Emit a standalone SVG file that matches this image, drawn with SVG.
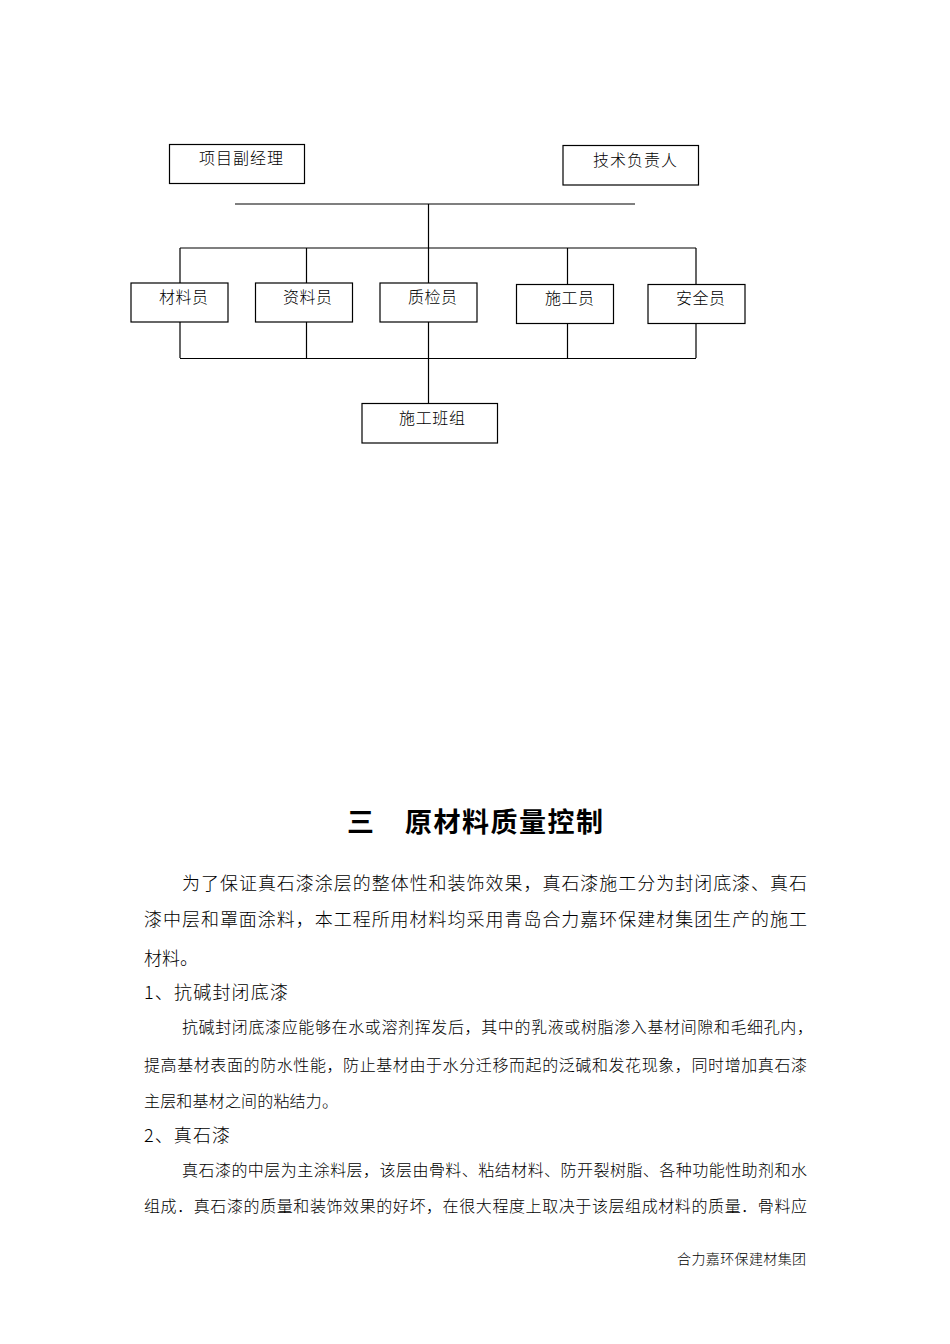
<svg xmlns="http://www.w3.org/2000/svg" width="950" height="1344" viewBox="0 0 950 1344">
<style>
text{font-family:"Noto Sans CJK SC","Noto Sans CJK JP",sans-serif;fill:#000;font-weight:300}
.b{fill:#fff;stroke:#000;stroke-width:1.2}
.c{stroke:#000;stroke-width:1.2;fill:none}
.n{font-size:16px}
.l{font-size:18px}
.s{font-size:16px}
.h{font-size:27px;font-weight:700}
.f{font-size:14px}
</style>
<rect width="950" height="1344" fill="#fff"/>
<g id="connectors">
<path class="c" d="M235 204H635M428.500 204V248M180 248H696M180 248V283M306.500 248V283M428.500 248V283M567.500 248V284M696 248V284M180 322V358M306.500 322V358M428.500 322V358M567.500 324V358M696 323V358M180 358.500H696M428.500 358V403"/>
</g>
<g id="n1"><rect class="b" x="169.500" y="144.500" width="135" height="39"/><text class="n" x="199" y="164" textLength="84">项目副经理</text></g>
<g id="n2"><rect class="b" x="563" y="145.500" width="135.500" height="39.500"/><text class="n" x="593" y="166" textLength="84">技术负责人</text></g>
<g id="n3"><rect class="b" x="131" y="283" width="97" height="39"/><text class="n" x="159" y="303" textLength="49">材料员</text></g>
<g id="n4"><rect class="b" x="255.500" y="283" width="97" height="39"/><text class="n" x="283" y="303" textLength="49">资料员</text></g>
<g id="n5"><rect class="b" x="380" y="283" width="97" height="39"/><text class="n" x="408" y="303" textLength="49">质检员</text></g>
<g id="n6"><rect class="b" x="516.500" y="284.500" width="97" height="39"/><text class="n" x="545" y="304" textLength="49">施工员</text></g>
<g id="n7"><rect class="b" x="648" y="284.500" width="97" height="39"/><text class="n" x="676" y="304" textLength="49">安全员</text></g>
<g id="n8"><rect class="b" x="362" y="403.500" width="135.500" height="39.500"/><text class="n" x="399" y="424" textLength="66">施工班组</text></g>
<text class="h" x="347" y="832">三</text>
<text class="h" x="405" y="832" textLength="198">原材料质量控制</text>
<text class="l" x="182" y="890" textLength="625">为了保证真石漆涂层的整体性和装饰效果，真石漆施工分为封闭底漆、真石</text>
<text class="l" x="144" y="926" textLength="663">漆中层和罩面涂料，本工程所用材料均采用青岛合力嘉环保建材集团生产的施工</text>
<text class="l" x="144" y="965" textLength="54">材料。</text>
<text class="l" x="144" y="999" textLength="144">1、抗碱封闭底漆</text>
<text class="s" x="182" y="1033" textLength="631">抗碱封闭底漆应能够在水或溶剂挥发后，其中的乳液或树脂渗入基材间隙和毛细孔内，</text>
<text class="s" x="144" y="1071" textLength="663">提高基材表面的防水性能，防止基材由于水分迁移而起的泛碱和发花现象，同时增加真石漆</text>
<text class="s" x="144" y="1107" textLength="194">主层和基材之间的粘结力。</text>
<text class="l" x="144" y="1142" textLength="86">2、真石漆</text>
<text class="s" x="182" y="1176" textLength="625">真石漆的中层为主涂料层，该层由骨料、粘结材料、防开裂树脂、各种功能性助剂和水</text>
<text class="s" x="144" y="1212" textLength="663">组成．真石漆的质量和装饰效果的好坏，在很大程度上取决于该层组成材料的质量．骨料应</text>
<text class="f" x="677" y="1264" textLength="129">合力嘉环保建材集团</text>
</svg>
